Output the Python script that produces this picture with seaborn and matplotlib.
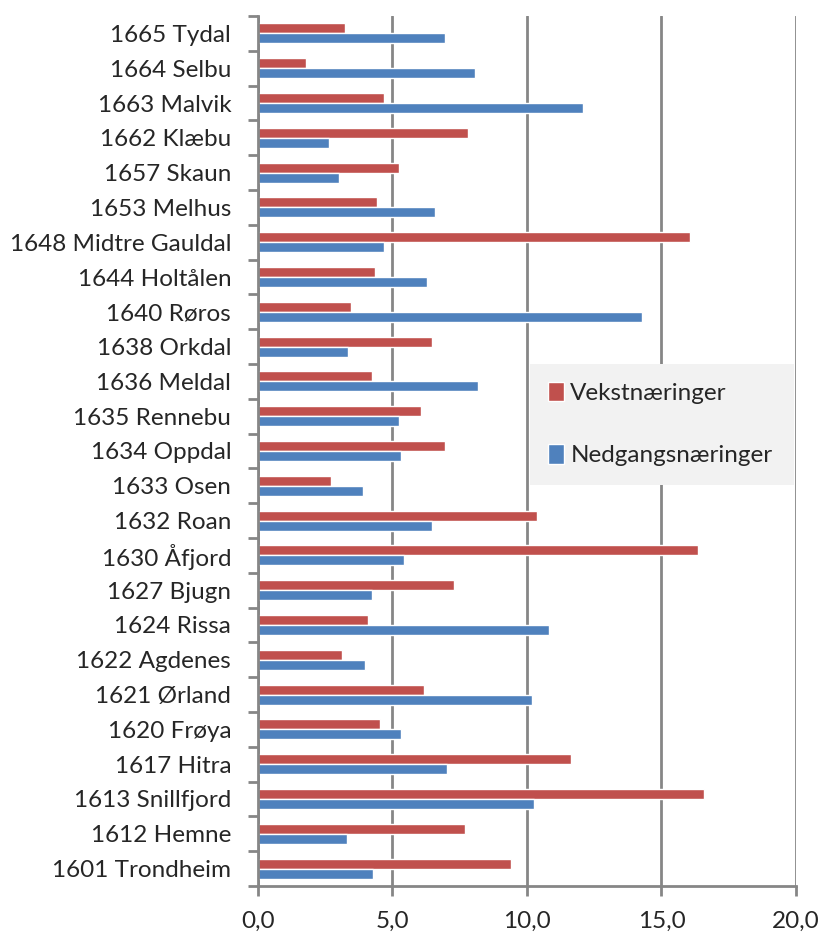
import pandas as pd
import matplotlib.pyplot as plt
import seaborn as sns
import numpy as np
from matplotlib.ticker import FixedLocator

# Kommuner (ovenfra og ned, slik som i figuren)
kommuner = ["1665 Tydal", "1664 Selbu", "1663 Malvik", "1662 Klæbu", "1657 Skaun",
            "1653 Melhus", "1648 Midtre Gauldal", "1644 Holtålen", "1640 Røros",
            "1638 Orkdal", "1636 Meldal", "1635 Rennebu", "1634 Oppdal", "1633 Osen",
            "1632 Roan", "1630 Åfjord", "1627 Bjugn", "1624 Rissa", "1622 Agdenes",
            "1621 Ørland", "1620 Frøya", "1617 Hitra", "1613 Snillfjord",
            "1612 Hemne", "1601 Trondheim"]

vekst = [3.26, 1.79, 4.71, 7.80, 5.24, 4.45, 16.08, 4.36, 3.48, 6.48, 4.26, 6.08,
         6.97, 2.71, 10.37, 16.35, 7.28, 4.11, 3.13, 6.17, 4.53, 11.63, 16.60,
         7.70, 9.42]
nedgang = [6.95, 8.07, 12.10, 2.64, 3.04, 6.59, 4.71, 6.30, 14.29, 3.37, 8.20, 5.25,
           5.33, 3.91, 6.49, 5.44, 4.24, 10.83, 3.98, 10.18, 5.33, 7.05, 10.28,
           3.31, 4.27]

serier = ["Vekstnæringer", "Nedgangsnæringer"]
farger = ["#C0504D", "#4F81BD"]
x_ticks = [0, 5, 10, 15, 20]
x_etiketter = ["0,0", "5,0", "10,0", "15,0", "20,0"]

df = pd.DataFrame({
    "kommune": kommuner * 2,
    "serie": [serier[0]] * len(kommuner) + [serier[1]] * len(kommuner),
    "verdi": vekst + nedgang,
})

sns.set_style("white")
plt.rcParams['font.family'] = ['Lato', 'DejaVu Sans']

grid_farge = "#868686"
fs = 17.5

fig = plt.figure(figsize=(8.22, 9.32), dpi=100)
ax = fig.add_axes([0.3134, 0.0494, 0.655, 0.9334])

sns.barplot(data=df, y="kommune", x="verdi", hue="serie", order=kommuner,
            hue_order=serier, palette=farger, saturation=1, width=0.575,
            orient="h", ax=ax)

ax.set_xlim(0, 20)
ax.set_ylim(len(kommuner) - 0.5, -0.5)
ax.set_xticks(x_ticks)
ax.set_xticklabels(x_etiketter, fontsize=fs)
ax.set_xlabel("")
ax.set_ylabel("")
ax.tick_params(axis="y", which="major", length=0, pad=19, labelsize=fs)
ax.yaxis.set_minor_locator(FixedLocator(np.arange(-0.5, len(kommuner), 1.0)))
ax.tick_params(axis="y", which="minor", length=7, width=2, color=grid_farge, left=True)
ax.tick_params(axis="x", which="major", length=7, width=2, color=grid_farge,
               bottom=True, pad=11)

ax.xaxis.grid(True, color=grid_farge, linewidth=2)
ax.set_axisbelow(True)
for side in ["top", "right"]:
    ax.spines[side].set_visible(False)
for side in ["left", "bottom"]:
    ax.spines[side].set_color(grid_farge)
    ax.spines[side].set_linewidth(2)

leg = ax.legend(loc="upper left", bbox_to_anchor=(0.506, 0.46, 0.49, 0.14),
                mode="expand", fontsize=fs, frameon=True, fancybox=False,
                facecolor="#F2F2F2", edgecolor="none", framealpha=1,
                handlelength=0.66, handleheight=0.84, handletextpad=0.25,
                labelspacing=1.65, borderpad=0.75, borderaxespad=0)
leg.get_frame().set_linewidth(0)

plt.savefig("out.png", dpi=100)
plt.close()
